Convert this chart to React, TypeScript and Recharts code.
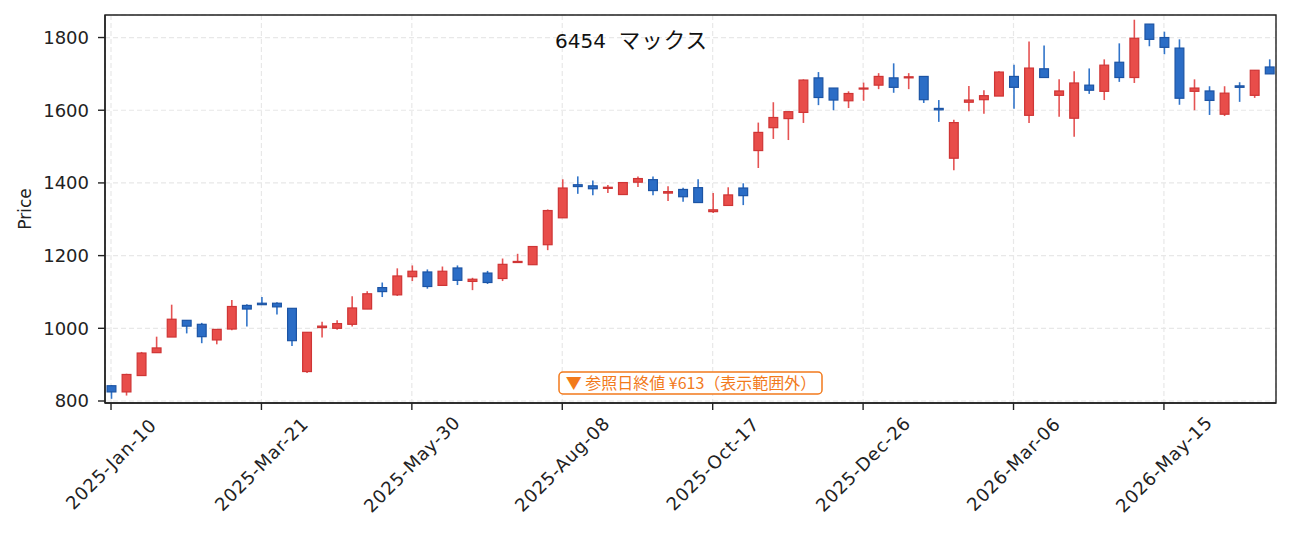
import React from "react";
import {
  ComposedChart,
  Bar,
  XAxis,
  YAxis,
  CartesianGrid,
  ReferenceArea,
  Customized,
} from "recharts";

// weekly candles (Fridays) starting 2025-01-10
const startDate = "2025-01-10";
const opens = [
  842, 825, 870, 933, 976, 1022, 1011, 968, 998, 1063, 1069, 1069, 1055, 881, 1002, 1000, 1011, 1053, 1112, 1092,
  1142, 1155, 1118, 1166, 1129, 1152, 1137, 1181, 1175, 1230, 1304, 1395, 1392, 1385, 1368, 1402, 1409, 1372, 1382, 1387,
  1321, 1338, 1386, 1489, 1552, 1577, 1594, 1689, 1661, 1626, 1659, 1669, 1689, 1689, 1693, 1605, 1468, 1622, 1629, 1639,
  1693, 1586, 1714, 1641, 1578, 1669, 1652, 1732, 1690, 1837, 1800, 1771, 1652, 1653, 1589, 1667, 1641, 1719,
];
const highs = [
  844, 875, 935, 977, 1065, 1022, 1015, 997, 1078, 1066, 1086, 1072, 1055, 989, 1018, 1022, 1088, 1102, 1126, 1165,
  1173, 1162, 1170, 1173, 1139, 1158, 1192, 1205, 1226, 1327, 1410, 1418, 1407, 1394, 1401, 1418, 1418, 1391, 1387, 1410,
  1372, 1388, 1399, 1566, 1622, 1596, 1685, 1705, 1661, 1652, 1676, 1702, 1729, 1702, 1693, 1628, 1574, 1667, 1655, 1707,
  1725, 1789, 1778, 1685, 1707, 1715, 1740, 1784, 1849, 1837, 1816, 1795, 1685, 1666, 1666, 1677, 1710, 1740,
];
const lows = [
  806, 815, 870, 933, 976, 986, 959, 956, 995, 1005, 1065, 1038, 951, 877, 975, 996, 1005, 1053, 1086, 1089,
  1130, 1109, 1118, 1119, 1105, 1122, 1130, 1181, 1175, 1215, 1304, 1370, 1366, 1372, 1368, 1389, 1366, 1350, 1348, 1346,
  1317, 1338, 1339, 1441, 1521, 1518, 1565, 1614, 1600, 1606, 1626, 1658, 1648, 1658, 1620, 1568, 1435, 1597, 1590, 1639,
  1604, 1565, 1690, 1582, 1527, 1645, 1628, 1678, 1675, 1776, 1754, 1615, 1600, 1587, 1584, 1623, 1634, 1700,
];
const closes = [
  825, 873, 932, 946, 1025, 1006, 977, 997, 1060, 1053, 1065, 1059, 966, 989, 1006, 1013, 1056, 1095, 1101, 1144,
  1157, 1115, 1157, 1132, 1135, 1126, 1176, 1184, 1225, 1324, 1386, 1390, 1384, 1388, 1401, 1412, 1379, 1376, 1362, 1346,
  1326, 1367, 1365, 1539, 1580, 1596, 1683, 1635, 1628, 1646, 1661, 1693, 1663, 1692, 1629, 1601, 1566, 1628, 1640, 1705,
  1663, 1716, 1690, 1653, 1675, 1655, 1724, 1690, 1798, 1795, 1773, 1633, 1661, 1627, 1647, 1663, 1710, 1700,
];
const yTicks = [800, 1000, 1200, 1400, 1600, 1800];
const xTicks = [0, 10, 20, 30, 40, 50, 60, 70];

const MONTHS = ["Jan", "Feb", "Mar", "Apr", "May", "Jun", "Jul", "Aug", "Sep", "Oct", "Nov", "Dec"];
const dates = opens.map((_, i) => {
  const d = new Date(startDate + "T00:00:00Z");
  d.setUTCDate(d.getUTCDate() + i * 7);
  return `${d.getUTCFullYear()}-${MONTHS[d.getUTCMonth()]}-${String(d.getUTCDate()).padStart(2, "0")}`;
});

const data = opens.map((o, i) => ({
  i,
  date: dates[i],
  open: o,
  high: highs[i],
  low: lows[i],
  close: closes[i],
  range: [lows[i], highs[i]],
}));

const UP = { fill: "#e84d4a", edge: "#cf3535", wick: "#e55353" };
const DOWN = { fill: "#2b6dc6", edge: "#1c54a4", wick: "#3174c9" };
const FONT = "'DejaVu Sans', 'Noto Sans CJK JP', sans-serif";
const X_DOMAIN = [-0.4, 77.45];
const Y_DOMAIN = [794.5, 1862];

function Candle(props: any) {
  const { x, y, width, height, payload } = props;
  if (!payload) return null;
  const { open, close, high, low } = payload;
  const top = Math.min(y, y + height);
  const h = Math.abs(height);
  const k = h / (high - low);
  const py = (v: number) => top + (high - v) * k;
  const c = close >= open ? UP : DOWN;
  const cx = x + width / 2;
  const bTop = py(Math.max(open, close));
  const bH = Math.max(py(Math.min(open, close)) - bTop, 1);
  return (
    <g>
      <line x1={cx} x2={cx} y1={top} y2={top + h} stroke={c.wick} strokeWidth={1.6} />
      <rect x={x + 0.6} y={bTop} width={width - 1.2} height={bH} fill={c.fill} stroke={c.edge} strokeWidth={1.2} />
    </g>
  );
}

function DateTick(props: any) {
  const { x, y, payload } = props;
  const label = dates[payload.value] ?? "";
  const cy = y + 52;
  return (
    <text
      x={x}
      y={cy}
      textAnchor="middle"
      dominantBaseline="central"
      transform={`rotate(-45 ${x} ${cy})`}
      fontSize={18}
      fontFamily={FONT}
      fill="#222"
      letterSpacing={0.8}
    >
      {label}
    </text>
  );
}

function Overlay() {
  return (
    <g fontFamily={FONT}>
      <text x={555} y={48} fontSize={20} fill="#111" style={{ whiteSpace: "pre" }}>
        {"6454  "}
        <tspan fontSize={21.5} letterSpacing={1}>マックス</tspan>
      </text>
      <text x={25} y={209} fontSize={17} fill="#222" textAnchor="middle" dominantBaseline="central" transform="rotate(-90 25 209)">
        Price
      </text>
      <rect x={559} y={372} width={263} height={22} rx={4} fill="#fff" stroke="#f27a1c" strokeWidth={1.5} />
      <text x={691} y={389} fontSize={16} fill="#f27a1c" textAnchor="middle" fontFamily="'Noto Sans CJK JP', sans-serif">
        ▼ 参照日終値 ¥613（表示範囲外）
      </text>
    </g>
  );
}

export default function App() {
  return (
    <div style={{ width: 1291, height: 533, background: "#fff" }}>
      <style>{"body{margin:0}"}</style>
      <ComposedChart width={1291} height={533} data={data} margin={{ top: 15, right: 15, bottom: 0, left: 0 }}>
        <CartesianGrid strokeDasharray="5 3" stroke="#e8e8e8" strokeWidth={1.2} />
        <XAxis
          dataKey="i"
          type="number"
          domain={X_DOMAIN}
          ticks={xTicks}
          interval={0}
          allowDataOverflow
          height={130}
          tickSize={7}
          tick={<DateTick />}
          axisLine={{ stroke: "#222", strokeWidth: 1.4 }}
          tickLine={{ stroke: "#222", strokeWidth: 1.4 }}
        />
        <YAxis
          domain={Y_DOMAIN}
          ticks={yTicks}
          allowDataOverflow
          width={105}
          tickSize={7}
          tickMargin={9}
          tick={{ fontSize: 18, fill: "#222", fontFamily: FONT }}
          axisLine={{ stroke: "#222", strokeWidth: 1.4 }}
          tickLine={{ stroke: "#222", strokeWidth: 1.4 }}
        />
        <Bar dataKey="range" barSize={10} shape={<Candle />} isAnimationActive={false} />
        <ReferenceArea
          x1={X_DOMAIN[0]}
          x2={X_DOMAIN[1]}
          y1={Y_DOMAIN[0]}
          y2={Y_DOMAIN[1]}
          fill="none"
          stroke="#222"
          strokeWidth={1.4}
          ifOverflow="visible"
        />
        <Customized component={<Overlay />} />
      </ComposedChart>
    </div>
  );
}
